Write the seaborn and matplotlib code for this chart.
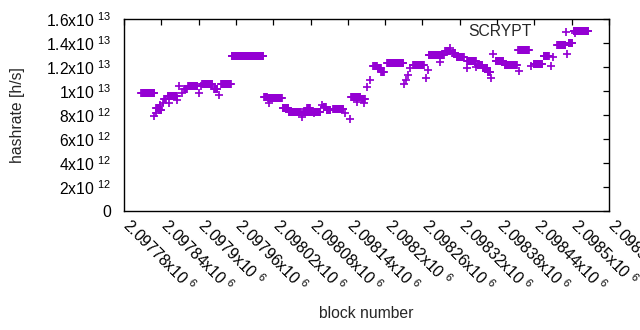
import numpy as np
import pandas as pd
import matplotlib
matplotlib.use("Agg")
import matplotlib.pyplot as plt
import matplotlib.transforms as mtransforms
import seaborn as sns
from matplotlib.ticker import FixedLocator, FuncFormatter

# runs of blocks sharing the same estimated hashrate (offset from 2097780, value in 1e12 h/s)
BASE = 2097780
run_first = [28, 49, 51, 52, 57, 58, 63, 65, 70, 73, 86, 89, 94, 97, 103, 120, 124, 126,
             145, 153, 156, 173, 225, 233, 232, 255, 265, 286, 288, 295, 305, 306, 319,
             321, 326, 336, 356, 363, 365, 374, 382, 386, 391, 396, 401, 408, 414, 423,
             450, 454, 457, 460, 465, 486, 489, 490, 508, 517, 524, 528, 535, 551, 552,
             566, 569, 577, 585, 590, 594, 598, 612, 635, 634, 654, 659, 675, 686, 690,
             696, 698, 712, 715, 726, 723]
run_last = [49, 49, 51, 56, 60, 58, 63, 67, 85, 73, 86, 89, 94, 101, 118, 120, 124, 142,
            150, 153, 172, 224, 230, 233, 254, 264, 284, 286, 303, 299, 305, 316, 319,
            325, 332, 353, 356, 363, 380, 374, 387, 386, 391, 396, 407, 413, 418, 449,
            450, 454, 457, 460, 482, 486, 489, 514, 508, 525, 524, 533, 546, 551, 566,
            566, 576, 584, 589, 590, 594, 610, 632, 635, 651, 654, 673, 683, 686, 690,
            696, 710, 712, 721, 726, 747]
run_rate = [9.8, 7.9, 8.2, 8.6, 8.4, 8.8, 9.0, 9.3, 9.6, 9.0, 9.25, 10.4, 9.8, 10.2, 10.45,
            9.8, 10.4, 10.55, 10.15, 9.7, 10.6, 12.9, 9.5, 9.0, 9.4, 8.55, 8.27, 7.86, 8.27,
            8.55, 8.14, 8.27, 8.83, 8.7, 8.45, 8.47, 8.14, 7.64, 9.5, 9.1, 9.3, 9.0, 10.35,
            10.9, 12.1, 11.9, 11.6, 12.3, 10.55, 10.9, 11.33, 11.9, 12.17, 11.1, 11.75, 13.0,
            12.4, 13.3, 13.6, 13.2, 12.86, 11.9, 12.5, 12.0, 12.2, 11.9, 11.6, 11.1, 13.08,
            12.5, 12.2, 11.7, 13.4, 12.1, 12.25, 12.9, 12.1, 12.8, 13.8, 13.8, 13.1, 14.0,
            14.85, 15.0]

x_ticks = [BASE + 60 * k for k in range(14)]
y_ticks = [0, 2e12, 4e12, 6e12, 8e12, 1e13, 1.2e13, 1.4e13, 1.6e13]

blocks = np.concatenate([np.arange(a, b + 1) for a, b in zip(run_first, run_last)]) + BASE
rates = np.concatenate([np.full(b - a + 1, r) for a, b, r in zip(run_first, run_last, run_rate)]) * 1e12
df = pd.DataFrame({"block": blocks, "hashrate": rates})

sns.set_style("white")
plt.rcParams["font.family"] = ["Liberation Sans", "DejaVu Sans"]
plt.rcParams["mathtext.fontset"] = "custom"
plt.rcParams["mathtext.rm"] = "Liberation Sans"
plt.rcParams["mathtext.default"] = "regular"
plt.rcParams["font.size"] = 11.3

fig = plt.figure(figsize=(6.4, 3.3), dpi=100)
ax = fig.add_axes([124 / 640, 1 - 211 / 330, (609 - 124) / 640, (211 - 19) / 330])

color = "#9400d3"
sns.scatterplot(data=df, x="block", y="hashrate", marker="+", s=30, color=color,
                linewidth=1.25, ax=ax, label="SCRYPT")


def sci(v, _=None):
    if v == 0:
        return "0"
    e = int(np.floor(np.log10(abs(v)) + 1e-9))
    m = v / 10 ** e
    return f"{m:g}x10 $^{{{e}}}$"


ax.set_xlim(x_ticks[0], x_ticks[-1])
ax.set_ylim(0, 1.6e13)
ax.xaxis.set_major_locator(FixedLocator(x_ticks))
ax.yaxis.set_major_locator(FixedLocator(y_ticks))
ax.xaxis.set_major_formatter(FuncFormatter(sci))
ax.yaxis.set_major_formatter(FuncFormatter(sci))
ax.tick_params(direction="in", length=4.5, width=0.9, top=True, right=True, colors="black")
ax.tick_params(axis="y", pad=9)
ax.tick_params(axis="x", pad=7)
shift = mtransforms.ScaledTranslation(9 / 100, 5 / 100, fig.dpi_scale_trans)
for lab in ax.get_xticklabels():
    lab.set_rotation(-45)
    lab.set_ha("left")
    lab.set_va("top")
    lab.set_rotation_mode("anchor")
    lab.set_transform(lab.get_transform() + shift)
for sp in ax.spines.values():
    sp.set_color("black")
    sp.set_linewidth(1.0)

ax.set_xlabel("block number")
ax.set_ylabel("hashrate [h/s]")
ax.xaxis.set_label_coords(0.5, -0.495)
ax.yaxis.set_label_coords(-0.204, 0.5)

ax.legend(loc="center right", bbox_to_anchor=(582 / 640, 1 - 32 / 330),
          bbox_transform=fig.transFigure, frameon=False, markerfirst=False,
          handlelength=2, handletextpad=1.2, borderpad=0, borderaxespad=0)

fig.savefig("out.png", dpi=100)
plt.close(fig)
